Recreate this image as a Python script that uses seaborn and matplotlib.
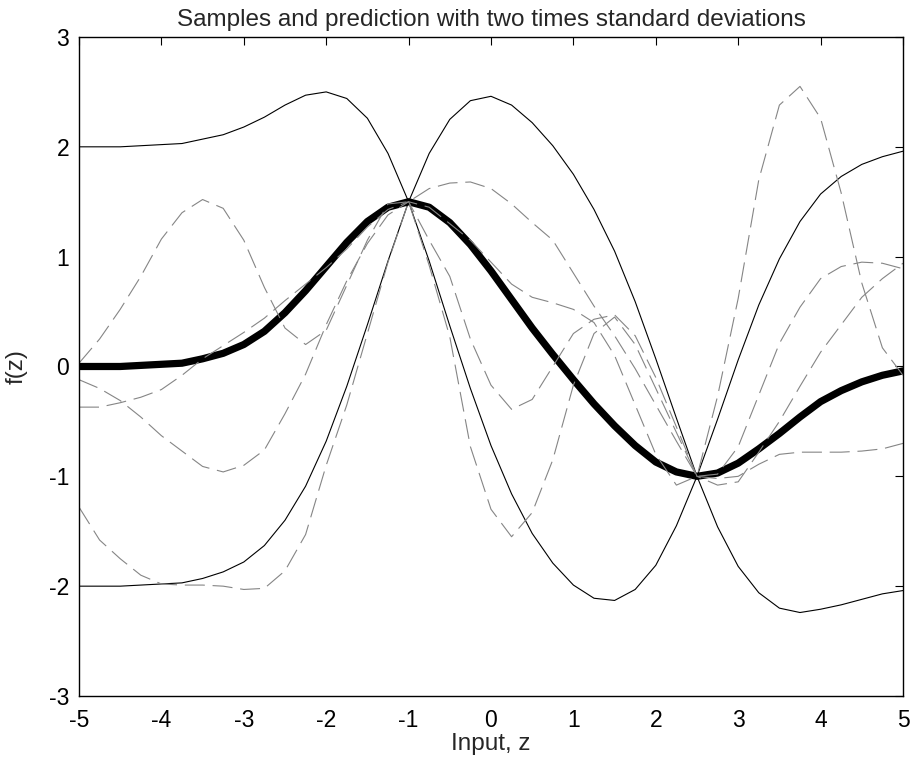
import numpy as np
import pandas as pd
import matplotlib
matplotlib.use("Agg")
import matplotlib.pyplot as plt
import seaborn as sns

# ---- data -------------------------------------------------------------------
z = np.linspace(-5, 5, 41)  # input grid, step 0.25

mean_f = [0.00, 0.00, 0.00, 0.01, 0.02, 0.03, 0.07, 0.12, 0.20, 0.32, 0.49,
          0.69, 0.91, 1.13, 1.32, 1.45, 1.50, 1.45, 1.31, 1.11, 0.87, 0.61,
          0.35, 0.11, -0.12, -0.34, -0.54, -0.72, -0.87, -0.96, -1.00, -0.97,
          -0.88, -0.75, -0.61, -0.46, -0.32, -0.22, -0.14, -0.08, -0.04]

upper_f = [2.00, 2.00, 2.00, 2.01, 2.02, 2.03, 2.07, 2.11, 2.18, 2.27, 2.38,
           2.47, 2.50, 2.44, 2.26, 1.94, 1.50, 1.94, 2.25, 2.42, 2.46, 2.38,
           2.22, 2.01, 1.75, 1.43, 1.05, 0.59, 0.07, -0.47, -1.00, -0.48,
           0.06, 0.56, 0.98, 1.32, 1.57, 1.73, 1.84, 1.91, 1.96]

lower_f = [-2.00, -2.00, -2.00, -1.99, -1.98, -1.97, -1.93, -1.87, -1.78,
           -1.63, -1.40, -1.09, -0.68, -0.18, 0.38, 0.96, 1.50, 0.96, 0.37,
           -0.20, -0.72, -1.16, -1.52, -1.79, -1.99, -2.11, -2.13, -2.03,
           -1.81, -1.45, -1.00, -1.46, -1.82, -2.06, -2.20, -2.24, -2.21,
           -2.17, -2.12, -2.07, -2.04]

sample_1 = [0.03, 0.25, 0.52, 0.82, 1.16, 1.40, 1.52, 1.44, 1.15, 0.72, 0.35,
            0.20, 0.33, 0.74, 1.15, 1.48, 1.50, 1.62, 1.67, 1.68, 1.62, 1.48,
            1.31, 1.15, 0.85, 0.55, 0.28, -0.02, -0.35, -0.68, -1.00, -0.27,
            0.62, 1.70, 2.38, 2.55, 2.26, 1.58, 0.76, 0.17, -0.08]

sample_2 = [-0.12, -0.20, -0.31, -0.46, -0.63, -0.77, -0.91, -0.96, -0.90,
            -0.76, -0.43, -0.07, 0.38, 0.78, 1.12, 1.38, 1.50, 1.45, 1.30,
            1.15, 0.95, 0.75, 0.63, 0.58, 0.52, 0.40, 0.10, -0.35, -0.80,
            -1.08, -1.00, -0.98, -0.73, -0.26, 0.21, 0.54, 0.80, 0.91, 0.95,
            0.94, 0.89]

sample_3 = [-0.37, -0.37, -0.33, -0.28, -0.21, -0.08, 0.07, 0.19, 0.31, 0.44,
            0.60, 0.75, 0.90, 1.07, 1.27, 1.43, 1.50, 1.15, 0.82, 0.25, -0.17,
            -0.39, -0.30, 0.00, 0.30, 0.43, 0.47, 0.28, -0.10, -0.55, -1.00,
            -1.08, -1.05, -0.78, -0.50, -0.18, 0.13, 0.38, 0.63, 0.80, 0.94]

sample_4 = [-1.28, -1.58, -1.75, -1.90, -1.98, -1.99, -1.99, -2.00, -2.03,
            -2.02, -1.86, -1.53, -0.90, -0.35, 0.30, 0.95, 1.50, 0.92, 0.27,
            -0.73, -1.30, -1.55, -1.33, -0.85, -0.17, 0.30, 0.45, 0.20, -0.20,
            -0.60, -1.00, -1.02, -1.00, -0.89, -0.80, -0.78, -0.78, -0.78,
            -0.77, -0.75, -0.70]

x_ticks = [-5, -4, -3, -2, -1, 0, 1, 2, 3, 4, 5]
y_ticks = [-3, -2, -1, 0, 1, 2, 3]

title_text = "Samples and prediction with two times standard deviations"
x_label = "Input, z"
y_label = "f(z)"

# ---- build tidy table --------------------------------------------------------
curves = {"mean": mean_f, "upper": upper_f, "lower": lower_f,
          "s1": sample_1, "s2": sample_2, "s3": sample_3, "s4": sample_4}
df = pd.concat([pd.DataFrame({"z": z, "f": v, "curve": k})
                for k, v in curves.items()], ignore_index=True)

# ---- style -------------------------------------------------------------------
sns.set_theme(style="white")
plt.rcParams["font.family"] = ["Liberation Sans", "DejaVu Sans"]
plt.rcParams["axes.unicode_minus"] = False

fig = plt.figure(figsize=(9.1, 7.64), dpi=100)
ax = fig.add_axes([0.0868, 0.0890, 0.9055, 0.8626])

sns.lineplot(data=df[df.curve == "mean"], x="z", y="f", ax=ax,
             color="black", linewidth=5.2, estimator=None, sort=False)
for k in ["upper", "lower"]:
    sns.lineplot(data=df[df.curve == k], x="z", y="f", ax=ax,
                 color="black", linewidth=0.8, estimator=None, sort=False)
for k in ["s1", "s2", "s3", "s4"]:
    sns.lineplot(data=df[df.curve == k], x="z", y="f", ax=ax,
                 color="0.52", linewidth=0.8, linestyle=(0, (18, 7)),
                 estimator=None, sort=False)

ax.set_xlim(-5, 5)
ax.set_ylim(-3, 3)
ax.set_xticks(x_ticks)
ax.set_yticks(y_ticks)
ax.set_xticklabels([str(t) for t in x_ticks])
ax.set_yticklabels([str(t) for t in y_ticks])
ax.tick_params(direction="in", length=6, width=0.8, top=True, right=True,
               labelsize=16.5, colors="black")
ax.tick_params(axis="x", pad=9)
ax.tick_params(axis="y", pad=7)
for s in ax.spines.values():
    s.set_color("black")
    s.set_linewidth(1.0)

ax.set_title(title_text, fontsize=17.5, pad=8)
ax.set_xlabel(x_label, fontsize=17.5)
ax.set_ylabel(y_label, fontsize=17.5)
ax.xaxis.set_label_coords(0.5, -0.056)
ax.yaxis.set_label_coords(-0.062, 0.5)

fig.savefig("out.png", dpi=100, facecolor="white")
